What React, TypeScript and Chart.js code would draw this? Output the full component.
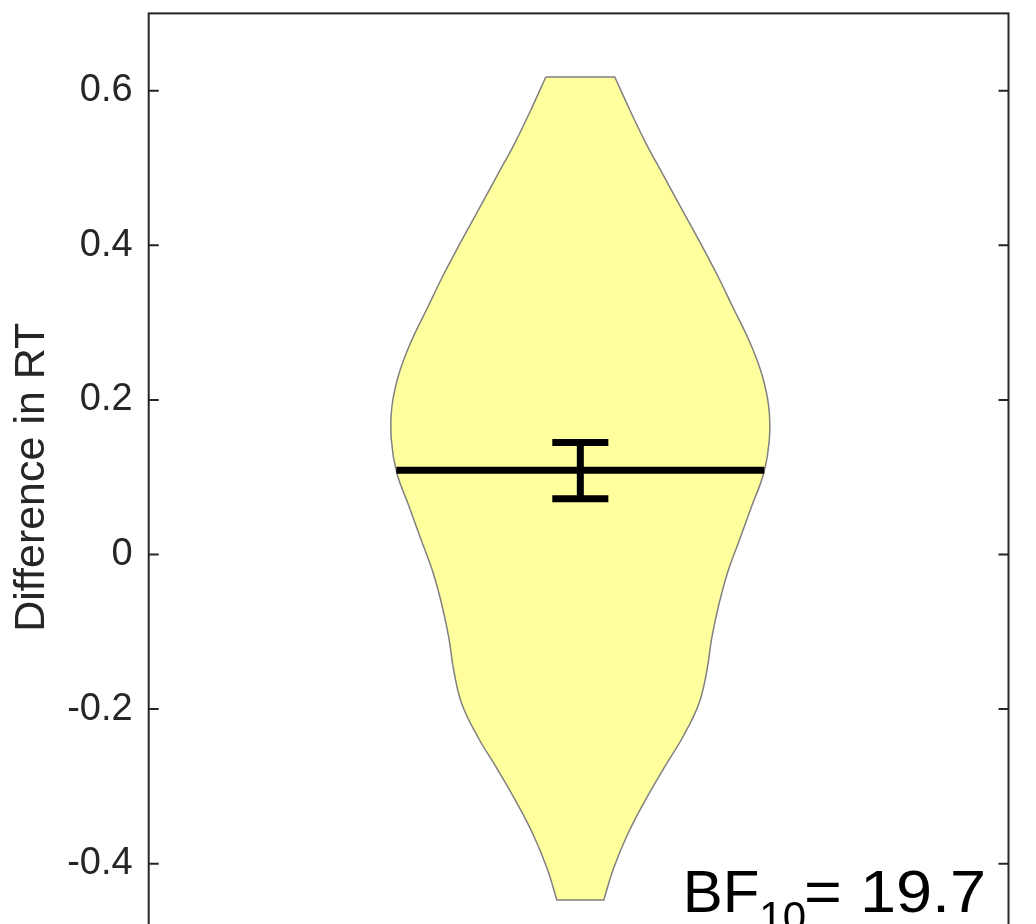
import React, { useEffect, useRef } from 'react';
import { Chart, registerables } from 'chart.js';

Chart.register(...registerables);

// ---- data ----
const violinCenter = 1;
const densityY = [0.6177, 0.575, 0.5323, 0.4896, 0.4469, 0.4043, 0.3616, 0.3189, 0.2762, 0.2335, 0.1908, 0.1481, 0.1054, 0.0627, 0.0201, -0.0226, -0.0653, -0.108, -0.1507, -0.1934, -0.2361, -0.2788, -0.3215, -0.3642, -0.4069, -0.4469];
const densityHalfWidth = [0.0401, 0.0576, 0.0762, 0.0971, 0.118, 0.139, 0.1593, 0.1779, 0.1965, 0.211, 0.2192, 0.2198, 0.2134, 0.1994, 0.1855, 0.1715, 0.161, 0.1529, 0.1471, 0.1378, 0.1192, 0.0959, 0.0738, 0.0541, 0.0384, 0.0273];
const meanValue = 0.109;
const ciLow = 0.072;
const ciHigh = 0.145;
const tickValues = [-0.4, -0.2, 0, 0.2, 0.4, 0.6];
const tickLabels = ['-0.4', '-0.2', '0', '0.2', '0.4', '0.6'];
const yAxisTitle = 'Difference in RT';
const bfMain = 'BF';
const bfSub = '10';
const bfRest = '= 19.7';

// ---- styles ----
const CAP_HALF = 0.0326;
const AXIS_COLOR = '#262626';
const FONT = "Arial, 'Liberation Sans', Helvetica, sans-serif";

function halfWidthAt(v: number): number {
  for (let i = 0; i < densityY.length - 1; i++) {
    const a = densityY[i], b = densityY[i + 1];
    if (v <= a && v >= b) {
      const t = (a - v) / (a - b);
      return densityHalfWidth[i] + t * (densityHalfWidth[i + 1] - densityHalfWidth[i]);
    }
  }
  return 0;
}

const boxPlugin = {
  id: 'boxAndTicks',
  afterDraw(chart: any) {
    const { ctx, chartArea } = chart;
    const y = chart.scales.y;
    ctx.save();
    ctx.strokeStyle = AXIS_COLOR;
    ctx.lineWidth = 2;
    ctx.strokeRect(chartArea.left, chartArea.top, chartArea.right - chartArea.left, chartArea.bottom - chartArea.top);
    tickValues.forEach((v) => {
      const py = y.getPixelForValue(v);
      ctx.beginPath();
      ctx.moveTo(chartArea.left, py);
      ctx.lineTo(chartArea.left + 10, py);
      ctx.moveTo(chartArea.right, py);
      ctx.lineTo(chartArea.right - 10, py);
      ctx.stroke();
    });
    // BF annotation
    const baseline = chartArea.bottom - 29;
    let x = chartArea.left + 534;
    ctx.fillStyle = '#000000';
    ctx.textBaseline = 'alphabetic';
    ctx.textAlign = 'left';
    ctx.font = `60px ${FONT}`;
    ctx.fillText(bfMain, x, baseline);
    x += ctx.measureText(bfMain).width;
    ctx.font = `42px ${FONT}`;
    ctx.fillText(bfSub, x, baseline + 19);
    x += ctx.measureText(bfSub).width;
    ctx.font = `60px ${FONT}`;
    ctx.translate(x - 2, baseline);
    ctx.scale(1.08, 1);
    ctx.fillText(bfRest, 0, 0);
    ctx.restore();
  },
};

export default function App() {
  const ref = useRef<HTMLCanvasElement | null>(null);
  useEffect(() => {
    if (!ref.current) return;
    const n = densityY.length;
    const left = densityY.map((v, i) => ({ x: violinCenter - densityHalfWidth[i], y: v }));
    const right = densityY.map((v, i) => ({ x: violinCenter + densityHalfWidth[i], y: v })).reverse();
    // duplicate the four corner points so the flat ends stay straight and sharp
    const violin = [
      left[0], ...left, left[n - 1],
      right[0], ...right, right[n - 1], left[0],
    ];
    const mw = halfWidthAt(meanValue);
    const chart = new Chart(ref.current, {
      type: 'scatter',
      data: {
        datasets: [
          {
            data: [{ x: violinCenter, y: ciLow }, { x: violinCenter, y: ciHigh }],
            showLine: true, borderColor: '#000', borderWidth: 7, pointRadius: 0, order: 1,
          } as any,
          {
            data: [{ x: violinCenter - CAP_HALF, y: ciHigh }, { x: violinCenter + CAP_HALF, y: ciHigh }],
            showLine: true, borderColor: '#000', borderWidth: 7, pointRadius: 0, order: 1,
          },
          {
            data: [{ x: violinCenter - CAP_HALF, y: ciLow }, { x: violinCenter + CAP_HALF, y: ciLow }],
            showLine: true, borderColor: '#000', borderWidth: 7, pointRadius: 0, order: 1,
          },
          {
            data: [{ x: violinCenter - mw, y: meanValue }, { x: violinCenter + mw, y: meanValue }],
            showLine: true, borderColor: '#000', borderWidth: 7, pointRadius: 0, order: 2,
          },
          {
            data: violin,
            showLine: true, fill: 'shape', backgroundColor: 'rgb(255,255,158)',
            borderColor: '#808080', borderWidth: 1.5, pointRadius: 0, tension: 0.4, order: 3,
          } as any,
        ],
      },
      options: {
        animation: false,
        responsive: false,
        devicePixelRatio: 1,
        layout: { padding: { left: 0, top: 13.4, right: 27.5, bottom: 19 } },
        plugins: { legend: { display: false }, tooltip: { enabled: false } },
        scales: {
          x: { type: 'linear', min: 0.498, max: 1.498, display: false },
          y: {
            type: 'linear', min: -0.5, max: 0.7,
            grid: { display: false, drawTicks: false },
            border: { display: false },
            afterBuildTicks: (s: any) => { s.ticks = tickValues.map((v) => ({ value: v })); },
            afterFit: (s: any) => { s.width = 148.7; s.paddingTop = 0; s.paddingBottom = 0; },
            ticks: {
              color: AXIS_COLOR, padding: 16, autoSkip: false,
              font: { family: FONT, size: 38 },
              callback: (_v: any, i: number) => tickLabels[i],
            },
            title: {
              display: true, text: yAxisTitle, color: AXIS_COLOR,
              font: { family: FONT, size: 43, lineHeight: 1.2 },
              padding: { top: 6, bottom: 0 },
            },
          },
        },
      },
      plugins: [boxPlugin],
    });
    return () => chart.destroy();
  }, []);
  return (
    <div style={{ position: 'absolute', left: 0, top: 0, width: 1036, height: 924, overflow: 'hidden', background: '#fff' }}>
      <canvas ref={ref} width={1036} height={960} />
    </div>
  );
}
